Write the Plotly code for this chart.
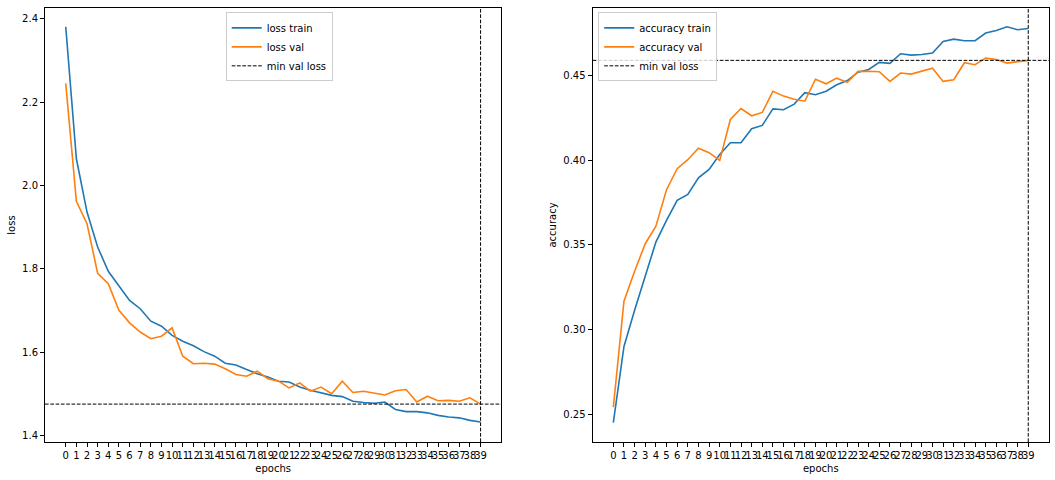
import plotly.graph_objects as go

epochs = list(range(40))
loss_train = [2.381, 2.064, 1.936, 1.852, 1.794, 1.758, 1.724, 1.704, 1.674, 1.662,
              1.640, 1.626, 1.615, 1.601, 1.590, 1.573, 1.569, 1.558, 1.548, 1.540,
              1.530, 1.528, 1.516, 1.508, 1.502, 1.496, 1.493, 1.482, 1.479, 1.477,
              1.480, 1.462, 1.457, 1.457, 1.454, 1.448, 1.444, 1.442, 1.436, 1.432]
loss_val = [2.245, 1.962, 1.908, 1.789, 1.764, 1.700, 1.670, 1.648, 1.632, 1.638,
            1.658, 1.590, 1.572, 1.573, 1.571, 1.560, 1.546, 1.542, 1.554, 1.536,
            1.530, 1.514, 1.526, 1.506, 1.516, 1.500, 1.530, 1.503, 1.506, 1.502,
            1.497, 1.507, 1.510, 1.480, 1.494, 1.483, 1.484, 1.482, 1.490, 1.475]
acc_train = [0.2451, 0.2901, 0.3114, 0.3310, 0.3517, 0.3645, 0.3763, 0.3798, 0.3896, 0.3945,
             0.4034, 0.4103, 0.4103, 0.4186, 0.4205, 0.4303, 0.4298, 0.4331, 0.4398, 0.4386,
             0.4407, 0.4445, 0.4470, 0.4519, 0.4535, 0.4577, 0.4571, 0.4628, 0.4620, 0.4624,
             0.4632, 0.4701, 0.4714, 0.4705, 0.4705, 0.4750, 0.4765, 0.4787, 0.4770, 0.4777]
acc_val = [0.2543, 0.3168, 0.3345, 0.3507, 0.3610, 0.3826, 0.3950, 0.4003, 0.4071, 0.4044,
           0.3999, 0.4240, 0.4305, 0.4262, 0.4282, 0.4406, 0.4378, 0.4360, 0.4348, 0.4478,
           0.4451, 0.4484, 0.4459, 0.4524, 0.4525, 0.4522, 0.4465, 0.4514, 0.4508, 0.4524,
           0.4543, 0.4465, 0.4475, 0.4575, 0.4563, 0.4602, 0.4594, 0.4573, 0.4579, 0.4589]
epoch_labels = [str(e) for e in epochs]

best = min(range(len(loss_val)), key=lambda i: loss_val[i])
min_loss = loss_val[best]
acc_at_best = acc_val[best]

BLUE = "#1f77b4"
ORANGE = "#ff7f0e"
FONT = "DejaVu Sans"

fig = go.Figure()
fig.add_trace(go.Scatter(x=epochs, y=loss_train, mode="lines", name="loss train",
                         line=dict(color=BLUE, width=1.6), xaxis="x", yaxis="y", legend="legend"))
fig.add_trace(go.Scatter(x=epochs, y=loss_val, mode="lines", name="loss val",
                         line=dict(color=ORANGE, width=1.6), xaxis="x", yaxis="y", legend="legend"))
fig.add_trace(go.Scatter(x=epochs, y=acc_train, mode="lines", name="accuracy train",
                         line=dict(color=BLUE, width=1.6), xaxis="x2", yaxis="y2", legend="legend2"))
fig.add_trace(go.Scatter(x=epochs, y=acc_val, mode="lines", name="accuracy val",
                         line=dict(color=ORANGE, width=1.6), xaxis="x2", yaxis="y2", legend="legend2"))

dash = "3.7px,1.6px"
fig.add_shape(type="line", xref="x domain", yref="y", x0=0, x1=1, y0=min_loss, y1=min_loss,
              line=dict(color="black", width=1, dash=dash), showlegend=True, name="min val loss",
              legend="legend")
fig.add_shape(type="line", xref="x", yref="y domain", x0=best, x1=best, y0=0, y1=1,
              line=dict(color="black", width=1, dash=dash))
fig.add_shape(type="line", xref="x2 domain", yref="y2", x0=0, x1=1, y0=acc_at_best, y1=acc_at_best,
              line=dict(color="black", width=1, dash=dash), showlegend=True, name="min val loss",
              legend="legend2")
fig.add_shape(type="line", xref="x2", yref="y2 domain", x0=best, x1=best, y0=0, y1=1,
              line=dict(color="black", width=1, dash=dash))

axis_common = dict(showline=True, mirror=True, linecolor="black", linewidth=1,
                   ticks="outside", ticklen=4, tickcolor="black", tickwidth=1,
                   showgrid=False, zeroline=False, automargin=False,
                   tickfont=dict(family=FONT, size=10, color="black"))

xr = [-1.95, 40.95]
fig.update_layout(
    width=1055, height=480,
    paper_bgcolor="white", plot_bgcolor="white",
    margin=dict(l=45, r=6, t=8, b=38, autoexpand=False),
    font=dict(family=FONT, size=10, color="black"),
    xaxis=dict(domain=[0, 0.4545], range=xr, tickmode="array", tickvals=epochs, ticktext=epoch_labels,
               tickangle=0, anchor="y",
               title=dict(text="epochs", font=dict(family=FONT, size=10), standoff=4), **axis_common),
    yaxis=dict(domain=[0, 1], range=[1.384, 2.426], tickmode="array",
               tickvals=[1.4, 1.6, 1.8, 2.0, 2.2, 2.4], tickformat=".1f", anchor="x",
               title=dict(text="loss", font=dict(family=FONT, size=10), standoff=4), **axis_common),
    xaxis2=dict(domain=[0.5454, 1], range=xr, tickmode="array", tickvals=epochs, ticktext=epoch_labels,
                tickangle=0, anchor="y2",
                title=dict(text="epochs", font=dict(family=FONT, size=10), standoff=4), **axis_common),
    yaxis2=dict(domain=[0, 1], range=[0.2337, 0.4898], tickmode="array",
                tickvals=[0.25, 0.30, 0.35, 0.40, 0.45], tickformat=".2f", anchor="x2",
                title=dict(text="accuracy", font=dict(family=FONT, size=10), standoff=4), **axis_common),
    legend=dict(x=0.18, y=0.99, xanchor="left", yanchor="top",
                bgcolor="rgba(255,255,255,0.8)", bordercolor="#cccccc", borderwidth=1,
                font=dict(family=FONT, size=10), tracegroupgap=0),
    legend2=dict(x=0.551, y=0.99, xanchor="left", yanchor="top",
                 bgcolor="rgba(255,255,255,0.8)", bordercolor="#cccccc", borderwidth=1,
                 font=dict(family=FONT, size=10), tracegroupgap=0),
    showlegend=True,
)

fig.write_html("out.html", config={"displayModeBar": False},
               post_script="document.body.style.margin='0px';")
